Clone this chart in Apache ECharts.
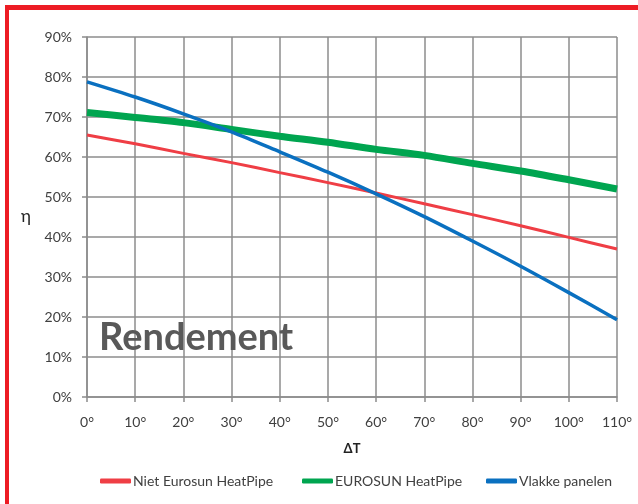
<!DOCTYPE html>
<html>
<head>
<meta charset="utf-8">
<script src="https://cdn.jsdelivr.net/npm/echarts@6/dist/echarts.min.js"></script>
<style>
html,body{margin:0;padding:0;background:#fff;}
#c{width:638px;height:504px;}
</style>
</head>
<body>
<div id="c"></div>
<script>
var deltaT = [0,10,20,30,40,50,60,70,80,90,100,110];
var nietEurosun = [65.5,63.3,60.9,58.6,56.1,53.6,51.0,48.3,45.6,42.8,39.9,37.0];
var eurosun = [71.1,69.9,68.6,66.9,65.2,63.7,61.9,60.4,58.4,56.5,54.3,52.0];
var vlakke = [78.8,75.0,70.8,66.3,61.3,56.2,50.8,45.1,39.0,32.7,26.1,19.3];
var yTicks = [0,10,20,30,40,50,60,70,80,90];
var seriesNames = ['Niet Eurosun HeatPipe','EUROSUN HeatPipe','Vlakke panelen'];

function pairs(arr){ return deltaT.map(function(x,i){ return [x, arr[i]]; }); }

var font = 'Lato, "Open Sans", sans-serif';
var legendText = {fontFamily:font, fontSize:14, color:'#404040', padding:[0,0,0,-3]};
var chart = echarts.init(document.getElementById('c'), null, {renderer:'canvas'});
chart.setOption({
  animation:false,
  backgroundColor:'#ffffff',
  grid:{left:87, right:21, top:37, bottom:107, containLabel:false},
  xAxis:{
    type:'value', min:0, max:110, interval:10,
    name:'ΔT', nameLocation:'middle', nameGap:45,
    nameTextStyle:{fontFamily:font, fontWeight:'bold', fontSize:13, color:'#222'},
    axisLine:{show:true, onZero:false, lineStyle:{color:'#8c8c8c', width:1.5}},
    axisTick:{show:true, inside:false, length:5, lineStyle:{color:'#8c8c8c', width:1.5}},
    axisLabel:{formatter:'{value}°', margin:18, fontFamily:font, fontSize:14, color:'#404040'},
    splitLine:{show:true, lineStyle:{color:'#8c8c8c', width:1.5}}
  },
  yAxis:{
    type:'value', min:yTicks[0], max:yTicks[yTicks.length-1], interval:10,
    name:'η', nameLocation:'middle', nameGap:56, nameRotate:0,
    nameTextStyle:{fontFamily:font, fontSize:17, color:'#222'},
    axisLine:{show:true, lineStyle:{color:'#8c8c8c', width:1.5}},
    axisTick:{show:true, inside:false, length:5, lineStyle:{color:'#8c8c8c', width:1.5}},
    axisLabel:{formatter:'{value}%', margin:15, fontFamily:font, fontSize:14, color:'#404040'},
    splitLine:{show:true, lineStyle:{color:'#8c8c8c', width:1.5}}
  },
  legend:[
    {data:[seriesNames[0]], left:95, top:469, itemWidth:31, itemHeight:5, icon:'roundRect', textStyle:legendText},
    {data:[seriesNames[1]], left:297, top:469, itemWidth:31, itemHeight:5, icon:'roundRect', textStyle:legendText},
    {data:[seriesNames[2]], left:481, top:469, itemWidth:31, itemHeight:5, icon:'roundRect', textStyle:legendText}
  ],
  graphic:[
    {type:'rect', left:5, top:5, shape:{width:633, height:5}, style:{fill:'#ed1c24'}, z:100},
    {type:'rect', left:5, top:5, shape:{width:4, height:499}, style:{fill:'#ed1c24'}, z:100},
    {type:'text', left:99, top:319, z:50,
     style:{text:'Rendement', font:'bold 38px ' + font, fill:'#595959'}}
  ],
  series:[
    {name:seriesNames[0], type:'line', data:pairs(nietEurosun), smooth:0.3, symbol:'none',
     lineStyle:{color:'#ef3e45', width:3}, itemStyle:{color:'#ef3e45'}, z:3},
    {name:seriesNames[1], type:'line', data:pairs(eurosun), smooth:0.3, symbol:'none',
     lineStyle:{color:'#00a550', width:7}, itemStyle:{color:'#00a550'}, z:2},
    {name:seriesNames[2], type:'line', data:pairs(vlakke), smooth:0.3, symbol:'none',
     lineStyle:{color:'#0a70c0', width:3.5}, itemStyle:{color:'#0a70c0'}, z:4}
  ]
});
</script>
</body>
</html>
